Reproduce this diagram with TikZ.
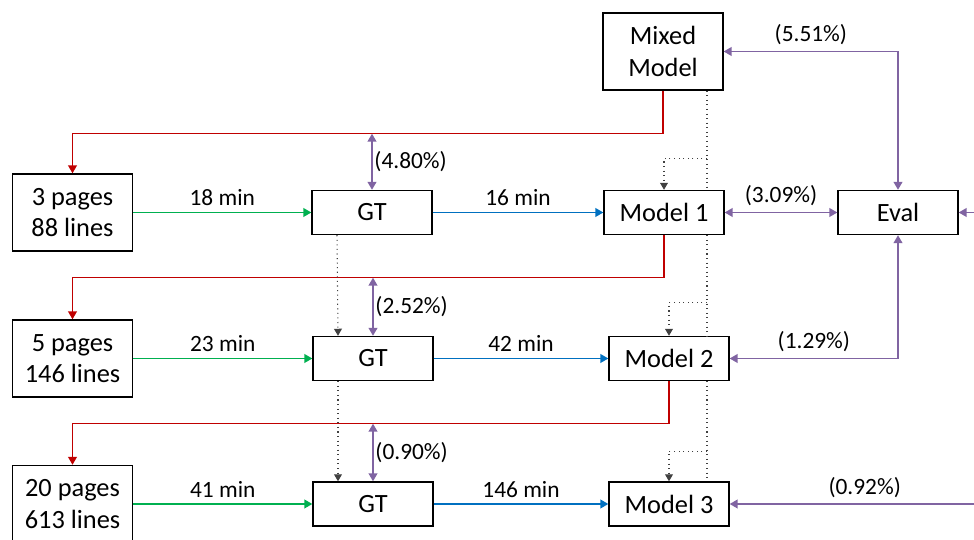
\documentclass[tikz,border=0pt]{standalone}
\usepackage{fontspec}
\setmainfont{Carlito}
\usetikzlibrary{arrows.meta, positioning}

\definecolor{fbred}{RGB}{192,0,0}
\definecolor{trgreen}{RGB}{0,176,80}
\definecolor{tnblue}{RGB}{0,112,192}
\definecolor{evpurple}{RGB}{128,100,162}

\begin{document}
\begin{tikzpicture}[
	box/.style={draw, fill=white, line width=0.8pt, minimum width=2.4cm, minimum height=0.88cm, inner sep=0pt, align=center, font=\fontsize{15}{18}\selectfont},
	tall/.style={box, minimum height=1.54cm},
	lbl/.style={text=black, font=\fontsize{13.3}{16}\selectfont},
	tip/.style={-{Triangle[width=5pt,length=4.5pt]}},
	fb/.style={tip, fbred, line width=0.8pt},
	tr/.style={tip, trgreen, line width=0.8pt},
	tn/.style={tip, tnblue, line width=0.8pt},
	ev/.style={tip, evpurple, line width=0.8pt},
	evd/.style={{Triangle[width=5pt,length=4.5pt]}-{Triangle[width=5pt,length=4.5pt]}, evpurple, line width=0.8pt},
	dl/.style={black!75, line width=0.6pt, dotted},
	dla/.style={dl, -{Triangle[width=4.5pt,length=4pt]}}
]
	\useasboundingbox (0,0) rectangle (19.48,10.8);

	% Models and evaluation
	\node[tall] (mixed) at (13.26,9.77) {Mixed\\Model};
	\node[box] (model1) at (13.28,6.55) {Model 1};
	\node[box] (model2) at (13.38,3.63) {Model 2};
	\node[box] (model3) at (13.38,0.72) {Model 3};
	\node[box] (eval) at (17.96,6.55) {Eval};

	% Pages and ground truth
	\node[tall] (pages1) at (1.45,6.55) {3 pages\\88 lines};
	\node[tall] (pages2) at (1.45,3.63) {5 pages\\146 lines};
	\node[tall] (pages3) at (1.45,0.72) {20 pages\\613 lines};
	\node[box] (gt1) at (7.44,6.55) {GT};
	\node[box] (gt2) at (7.46,3.63) {GT};
	\node[box] (gt3) at (7.46,0.72) {GT};

	% Transcription and training
	\draw[tr] (pages1) -- node[lbl, above] {18 min} (gt1);
	\draw[tr] (pages2) -- node[lbl, above] {23 min} (gt2);
	\draw[tr] (pages3) -- node[lbl, above] {41 min} (gt3);
	\draw[tn] (gt1) -- node[lbl, above] {16 min} (model1);
	\draw[tn] (gt2) -- node[lbl, above] {42 min} (model2);
	\draw[tn] (gt3) -- node[lbl, above] {146 min} (model3);

	% Feedback to the next batch
	\draw[fb] (mixed.south) -- ++(0,-0.86) coordinate (fb1) -| (pages1.north);
	\draw[fb] (model1.south) -- ++(0,-0.85) coordinate (fb2) -| (pages2.north);
	\draw[fb] (model2.south) -- ++(0,-0.85) coordinate (fb3) -| (pages3.north);
	\draw[evd] (gt1.north) -- (gt1.north |- fb1) node[lbl, midway, right, inner sep=1pt] {(4.80\%)};
	\draw[evd] (gt2.north) -- (gt2.north |- fb2) node[lbl, midway, right, inner sep=1pt] {(2.52\%)};
	\draw[evd] (gt3.north) -- (gt3.north |- fb3) node[lbl, midway, right, inner sep=1pt] {(0.90\%)};

	% GT carried over
	\draw[dla] ([xshift=-0.7cm]gt1.south) -- ([xshift=-0.7cm]gt2.north);
	\draw[dla] ([xshift=-0.7cm]gt2.south) -- ([xshift=-0.7cm]gt3.north);

	% Mixed model as base
	\draw[dl] ([xshift=0.88cm]mixed.south) coordinate (d0) -- (d0 |- model1.north);
	\draw[dl] (d0 |- model1.south) -- (d0 |- model2.north);
	\draw[dl] (d0 |- model2.south) -- (d0 |- model3.north);
	\draw[dla] (d0 |- model1.north) ++(0,0.62) -| (model1.north);
	\draw[dla] (d0 |- model2.north) ++(0,0.66) -| (model2.north);
	\draw[dla] (d0 |- model3.north) ++(0,0.60) -| (model3.north);

	% Evaluation
	\draw[evd] (mixed.east) -| node[lbl, pos=0.25, above] {(5.51\%)} (eval.north);
	\draw[evd] (model1) -- node[lbl, above] {(3.09\%)} (eval);
	\draw[evd] (eval.south) |- node[lbl, pos=0.75, above] {(1.29\%)} (model2.east);
	\coordinate (evin) at ([xshift=1.5cm]eval.east);
	\draw[ev] (evin) -- (eval.east);
	\coordinate (m3in) at ([xshift=6cm]model3.east);
	\draw[ev] (m3in) -- node[lbl, pos=0.55, above] {(0.92\%)} (model3.east);
\end{tikzpicture}
\end{document}
